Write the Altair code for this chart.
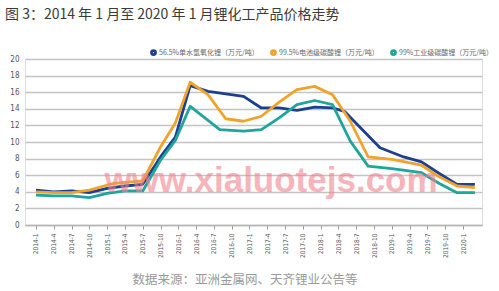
import altair as alt
import pandas as pd

# month index counted from 2014-1 (0) ; values in 万元/吨
lioh_month = [0, 3, 6, 9, 12, 15, 18, 21, 23.5, 26, 29, 35, 38, 41, 44, 47, 50, 52, 58, 62, 65, 68, 71, 74]
lioh_value = [4.2, 4.0, 4.1, 3.9, 4.4, 4.7, 4.9, 8.2, 10.6, 16.8, 16.1, 15.5, 14.1, 14.1, 13.8, 14.2, 14.1, 13.7, 9.3, 8.2, 7.6, 6.2, 4.9, 4.9]

bat_month = [0, 3, 6, 9, 13, 16, 18, 21, 23.5, 26, 29, 32, 35, 38, 41, 44, 47, 50, 53, 56, 60, 65, 68, 71, 74]
bat_value = [4.0, 3.9, 3.9, 4.2, 5.0, 5.2, 5.3, 9.4, 12.3, 17.2, 15.7, 12.8, 12.5, 13.1, 14.8, 16.3, 16.7, 15.7, 12.5, 8.2, 7.9, 7.2, 5.8, 4.7, 4.5]

ind_month = [0, 3, 6, 9, 12, 15, 18, 21, 23.5, 26, 31, 35, 38, 41, 44, 47, 50, 53, 56, 60, 65, 68, 71, 74]
ind_value = [3.6, 3.5, 3.5, 3.3, 3.8, 4.1, 4.1, 7.8, 10.2, 14.3, 11.5, 11.3, 11.5, 12.9, 14.5, 15.0, 14.5, 10.1, 7.1, 6.8, 6.3, 5.0, 3.9, 3.9]

series_names = ["56.5%单水氢氧化锂（万元/吨）", "99.5%电池级碳酸锂（万元/吨）", "99%工业级碳酸锂（万元/吨）"]
series_colors = ["#1c3f8e", "#eea42c", "#1fa59c"]
tick_months = list(range(0, 73, 3))
y_ticks = list(range(0, 21, 2))

title_text = "图 3：2014 年 1 月至 2020 年 1 月锂化工产品价格走势"
source_text = "数据来源：亚洲金属网、天齐锂业公告等"
watermark_text = "www.xialuotejs.com"

rows = []
for name, ms, vs in zip(series_names, [lioh_month, bat_month, ind_month], [lioh_value, bat_value, ind_value]):
    for m, v in zip(ms, vs):
        rows.append({"series": name, "month": m, "value": v})
df = pd.DataFrame(rows)

W, H = 457, 166

x_scale = alt.Scale(domain=[-1.85, 75.2], nice=False, zero=False)
y_scale = alt.Scale(domain=[0, 20], nice=False)

lines = alt.Chart(df).mark_line(strokeWidth=2.8, strokeJoin="round").encode(
    x=alt.X("month:Q", scale=x_scale,
            axis=alt.Axis(values=tick_months, title=None, grid=False,
                          labelExpr="(floor(datum.value/12)+2014) + '-' + (datum.value % 12 + 1)",
                          labelAngle=-90, labelFontSize=6.5, labelColor="#555555",
                          labelFont="DejaVu Sans Condensed", labelPadding=4,
                          tickSize=4, tickColor="#9a9a9a", domainColor="#b5b5b5",
                          domainWidth=1.5, labelBaseline="middle", labelAlign="right")),
    y=alt.Y("value:Q", scale=y_scale,
            axis=alt.Axis(values=y_ticks, title=None, domain=False, ticks=False,
                          gridColor="#c4c4c4", gridWidth=1.5, labelFontSize=8,
                          labelColor="#555555", labelFont="DejaVu Sans Condensed", labelPadding=6)),
    color=alt.Color("series:N",
                    scale=alt.Scale(domain=series_names, range=series_colors),
                    legend=alt.Legend(title=None, orient="none", direction="horizontal",
                                      legendX=125, legendY=-10,
                                      symbolType="circle", symbolSize=8, symbolStrokeWidth=4,
                                      labelFontSize=7, labelColor="#666666",
                                      labelFont="Noto Sans CJK SC", labelLimit=300,
                                      labelOffset=2, columnPadding=5, symbolOffset=0)),
    order="month:Q",
)

wm = alt.Chart(pd.DataFrame({"t": [watermark_text]})).mark_text(
    font="Liberation Sans", fontWeight="bold", fontSize=35,
    color="#f2838f", opacity=0.6, align="center", baseline="alphabetic"
).encode(text="t:N", x=alt.value(246), y=alt.value(133))

src = alt.Chart(pd.DataFrame({"t": [source_text]})).mark_text(
    font="Noto Sans CJK SC", fontSize=12.5, color="#9a9a9a", align="center", baseline="middle"
).encode(text="t:N", x=alt.value(220), y=alt.value(221))

chart = alt.layer(lines, wm, src).properties(
    width=W, height=H,
    title=alt.TitleParams(title_text, anchor="start", frame="group", dx=-20, offset=27,
                          font="Noto Sans CJK SC", fontSize=14, fontWeight="normal",
                          color="#3a3a3a"),
    padding={"left": 25, "top": 59, "right": 17, "bottom": 66},
    autosize=alt.AutoSizeParams(type="none"),
).configure_view(stroke=None).configure(background="white")

chart.save("out.html", embed_options={"renderer": "svg", "actions": False})
